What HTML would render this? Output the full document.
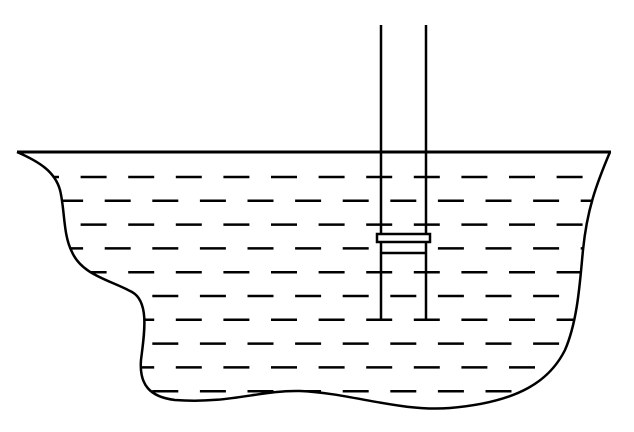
<!DOCTYPE html>
<html><head><meta charset="utf-8"><style>html,body{margin:0;padding:0;background:#fff}svg{display:block}</style></head>
<body>
<svg id="fig" width="634" height="432" viewBox="0 0 634 432" xmlns="http://www.w3.org/2000/svg">
<defs>
<clipPath id="vc"><path d="M17,152 C40,162 55,172 60,190 C65,210 63,235 72,252 C82,275 110,280 132,292 C150,302 144,335 141,360 C139,385 150,397 175,400 C230,404 260,390 300,391 C350,393 400,412 450,408 C520,402 550,380 565,350 C578,320 580,280 583,250 C587,210 596,185 610,152 Z"/></clipPath>
</defs>
<g id="dashes" clip-path="url(#vc)" stroke="#000" stroke-width="2.5"></g>
<rect x="382" y="243" width="43" height="9" fill="#fff"/>
<path d="M17,152 C40,162 55,172 60,190 C65,210 63,235 72,252 C82,275 110,280 132,292 C150,302 144,335 141,360 C139,385 150,397 175,400 C230,404 260,390 300,391 C350,393 400,412 450,408 C520,402 550,380 565,350 C578,320 580,280 583,250 C587,210 596,185 610,152" fill="none" stroke="#000" stroke-width="2.5"/>
<line x1="17" y1="152" x2="611" y2="152" stroke="#000" stroke-width="3"/>
<line x1="381" y1="25" x2="381" y2="320" stroke="#000" stroke-width="2.5"/>
<line x1="426" y1="25" x2="426" y2="320" stroke="#000" stroke-width="2.5"/>
<rect x="377" y="234" width="53" height="8" fill="#fff" stroke="#000" stroke-width="2.5"/>
<line x1="381" y1="253" x2="426" y2="253" stroke="#000" stroke-width="2.5"/>
</svg>
<script>
var g=document.getElementById('dashes');
for(var i=0;i<10;i++){
  var y=177+i*23.8;
  var start=(i%2===0)?33:9.5;
  for(var x=start-47.6;x<640;x+=47.6){
    var l=document.createElementNS('http://www.w3.org/2000/svg','line');
    
    
    l.setAttribute('x1',x);l.setAttribute('x2',x+26);
    l.setAttribute('y1',y);l.setAttribute('y2',y);
    g.appendChild(l);
  }
}
</script>
</body></html>
